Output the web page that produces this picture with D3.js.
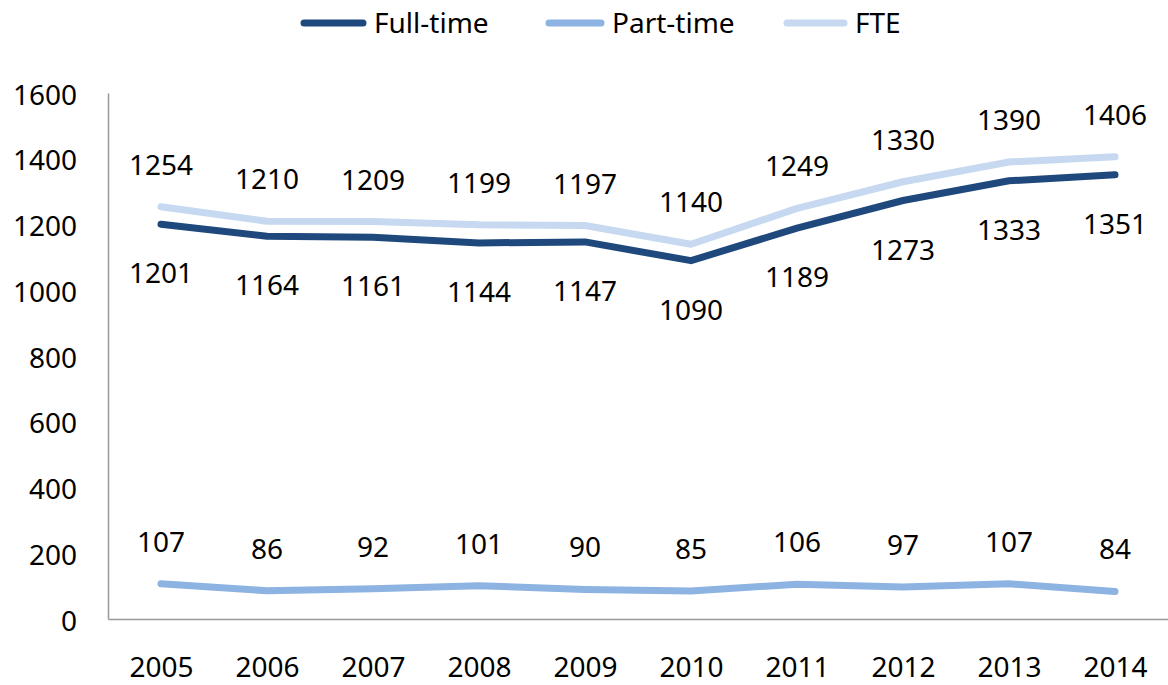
<!DOCTYPE html>
<html>
<head>
<meta charset="utf-8">
<script src="https://cdn.jsdelivr.net/npm/d3@7"></script>
<style>
  body { margin: 0; background: #fff; }
  text { font-family: "Noto Sans", sans-serif; fill: #000; }
</style>
</head>
<body>
<div id="chart"></div>
<script>
const years = ["2005", "2006", "2007", "2008", "2009", "2010", "2011", "2012", "2013", "2014"];
const fullTime = [1201, 1164, 1161, 1144, 1147, 1090, 1189, 1273, 1333, 1351];
const partTime = [107, 86, 92, 101, 90, 85, 106, 97, 107, 84];
const fte = [1254, 1210, 1209, 1199, 1197, 1140, 1249, 1330, 1390, 1406];
const yTicks = [0, 200, 400, 600, 800, 1000, 1200, 1400, 1600];

const width = 1168, height = 685;
const margin = { top: 93, right: 0, bottom: 66, left: 108 };

const series = [
  { name: "Full-time", values: fullTime, color: "#1f497d", labelDy: 49 },
  { name: "Part-time", values: partTime, color: "#8db3e2", labelDy: -42 },
  { name: "FTE", values: fte, color: "#c6d9f1", labelDy: -42 }
];

const svg = d3.select("#chart")
  .append("svg")
  .attr("width", width)
  .attr("height", height);

const xScale = d3.scalePoint()
  .domain(years)
  .range([margin.left, width - margin.right])
  .padding(0.5);

const yScale = d3.scaleLinear()
  .domain([0, 1600])
  .range([height - margin.bottom, margin.top]);

// axes
const leftAxisG = svg.append("g")
  .attr("transform", `translate(${margin.left},0)`)
  .call(d3.axisLeft(yScale).tickValues(yTicks).tickFormat(d3.format("d")).tickSize(0).tickPadding(31));
leftAxisG.select(".domain").attr("stroke", "#999").attr("stroke-width", 1.5);
leftAxisG.selectAll("text").style("font-size", "28px").attr("dy", "0.4em");

const bottomAxisG = svg.append("g")
  .attr("transform", `translate(0,${yScale(0)})`)
  .call(d3.axisBottom(xScale).tickSize(0).tickPadding(38));
bottomAxisG.select(".domain").attr("stroke", "#999").attr("stroke-width", 1.5);
bottomAxisG.selectAll("text").style("font-size", "28px");

const line = d3.line()
  .x((d, i) => xScale(years[i]))
  .y(d => yScale(d));

// draw FTE first so full-time sits on top
[series[2], series[1], series[0]].forEach(s => {
  svg.append("path")
    .datum(s.values)
    .attr("fill", "none")
    .attr("stroke", s.color)
    .attr("stroke-width", 7)
    .attr("stroke-linecap", "round")
    .attr("stroke-linejoin", "round")
    .attr("d", line);
});

series.forEach(s => {
  svg.append("g").selectAll("text")
    .data(s.values)
    .join("text")
    .attr("x", (d, i) => xScale(years[i]))
    .attr("y", d => yScale(d) + s.labelDy)
    .attr("dy", "0.36em")
    .attr("text-anchor", "middle")
    .style("font-size", "28px")
    .text(d => d);
});

// legend
const legendItems = [
  { x: 300, textX: 374 },
  { x: 545, textX: 612 },
  { x: 783, textX: 855 }
];
const legend = svg.append("g");
series.forEach((s, i) => {
  const li = legendItems[i];
  legend.append("line")
    .attr("x1", li.x + 4).attr("x2", li.textX - 11)
    .attr("y1", 23).attr("y2", 23)
    .attr("stroke", s.color)
    .attr("stroke-width", 7)
    .attr("stroke-linecap", "round");
  legend.append("text")
    .attr("x", li.textX)
    .attr("y", 23)
    .attr("dy", "0.36em")
    .style("font-size", "28px")
    .text(s.name);
});
</script>
</body>
</html>
